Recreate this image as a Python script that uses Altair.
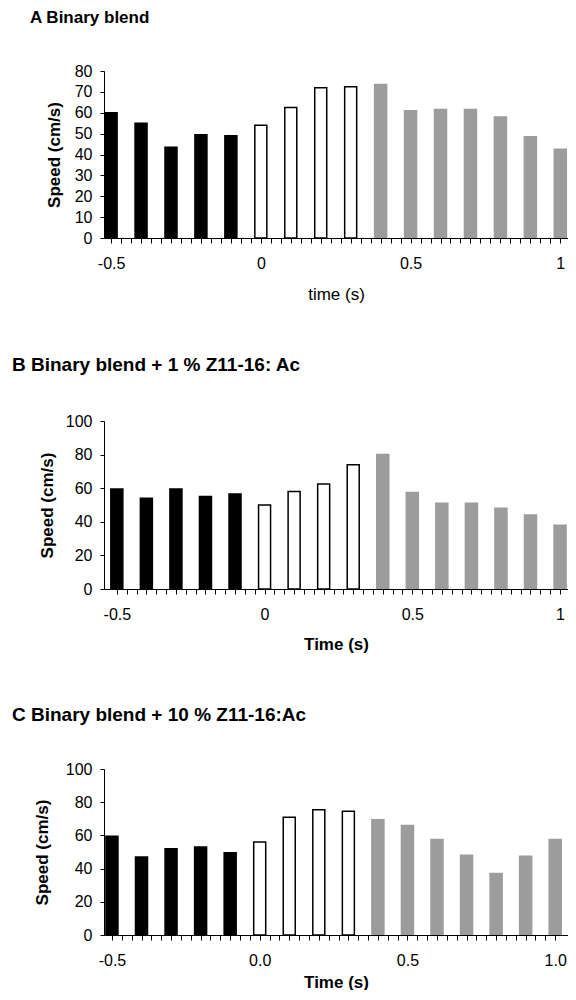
import altair as alt
import pandas as pd

times = [-0.5, -0.4, -0.3, -0.2, -0.1, 0.0, 0.1, 0.2, 0.3, 0.4, 0.5, 0.6, 0.7, 0.8, 0.9, 1.0]
phase = ["before"] * 5 + ["during"] * 4 + ["after"] * 7

speed_a = [60, 55, 43.5, 49.5, 49, 54, 62.5, 72, 72.5, 73.5, 61, 61.5, 61.5, 58, 48.5, 42.5]
speed_b = [59.5, 54, 59.5, 55, 56.5, 50, 58, 62.5, 74, 80, 57.5, 51, 51, 48, 44, 38]
speed_c = [59.5, 47, 52, 53, 49.5, 56, 71, 75.5, 74.5, 69.5, 66, 57.5, 48, 37, 47.5, 57.5]

titles = ["A Binary blend", "B Binary blend + 1 % Z11-16: Ac", "C Binary blend + 10 % Z11-16:Ac"]
x_titles = ["time (s)", "Time (s)", "Time (s)"]
y_title = "Speed (cm/s)"

tick_values = [round(-0.5 + k / 30, 4) for k in range(46)]

FONT = "Liberation Sans"
phase_domain = ["before", "during", "after"]
fill_range = ["#000000", "#ffffff", "#9c9c9c"]
stroke_range = ["#000000", "#000000", "#9c9c9c"]


def panel(speed, title, title_size, title_dx, title_offset, xtitle, xbold, xtitle_pad,
          xfmt, ymax, ystep, ytitle_pad, xdom, height):
    df = pd.DataFrame({"time": times, "speed": speed, "phase": phase})
    label_expr = (
        "abs(datum.value * 2 - round(datum.value * 2)) < 0.001 ? "
        "replace(format(datum.value, '%s'), '\u2212', '-') : ''" % xfmt
    )
    return (
        alt.Chart(
            df,
            title=alt.Title(
                title,
                anchor="start",
                frame="group",
                dx=title_dx,
                fontSize=title_size,
                font=FONT,
                fontWeight="bold",
                color="#000000",
                offset=title_offset,
            ),
        )
        .mark_bar(size=12, clip=True, strokeWidth=1.5)
        .encode(
            x=alt.X(
                "time:Q",
                scale=alt.Scale(domain=xdom, nice=False, zero=False),
                axis=alt.Axis(
                    values=tick_values,
                    labelExpr=label_expr,
                    title=xtitle,
                    titleFontWeight="bold" if xbold else "normal",
                    titleFontSize=17,
                    titlePadding=xtitle_pad,
                    labelPadding=12,
                    tickSize=5,
                    labelFlush=False,
                    labelOverlap=False,
                ),
            ),
            y=alt.Y(
                "speed:Q",
                scale=alt.Scale(domain=[0, ymax], nice=False),
                axis=alt.Axis(
                    values=list(range(0, ymax + 1, ystep)),
                    title=y_title,
                    titleFontWeight="bold",
                    titleFontSize=17,
                    titlePadding=ytitle_pad,
                    labelPadding=8,
                    tickSize=4,
                ),
            ),
            fill=alt.Fill("phase:N", scale=alt.Scale(domain=phase_domain, range=fill_range), legend=None),
            stroke=alt.Stroke("phase:N", scale=alt.Scale(domain=phase_domain, range=stroke_range), legend=None),
        )
        .properties(width=464, height=height)
    )


a = panel(speed_a, titles[0], 17, -74, 36, x_titles[0], False, 15, ".1~f", 80, 10, 11,
          [-0.507, 1.009], 167)
b = panel(speed_b, titles[1], 19, -92, 38.5, x_titles[1], True, 14, ".1~f", 100, 20, 9,
          [-0.5265, 1.010], 168)
c = panel(speed_c, titles[2], 19, -92, 36.5, x_titles[2], True, 6, ".1f", 100, 20, 14,
          [-0.51, 1.0264], 166)

chart = (
    alt.vconcat(a, b, c, spacing=53)
    .properties(padding={"left": 4, "top": 1, "right": 0, "bottom": 0})
    .configure_view(stroke=None)
    .configure_axis(
        grid=False,
        domainColor="#000000",
        domainWidth=1,
        tickColor="#000000",
        labelColor="#000000",
        titleColor="#000000",
        labelFont=FONT,
        titleFont=FONT,
        labelFontSize=16,
    )
)

chart.save("out.html", embed_options={"renderer": "svg", "actions": False})
